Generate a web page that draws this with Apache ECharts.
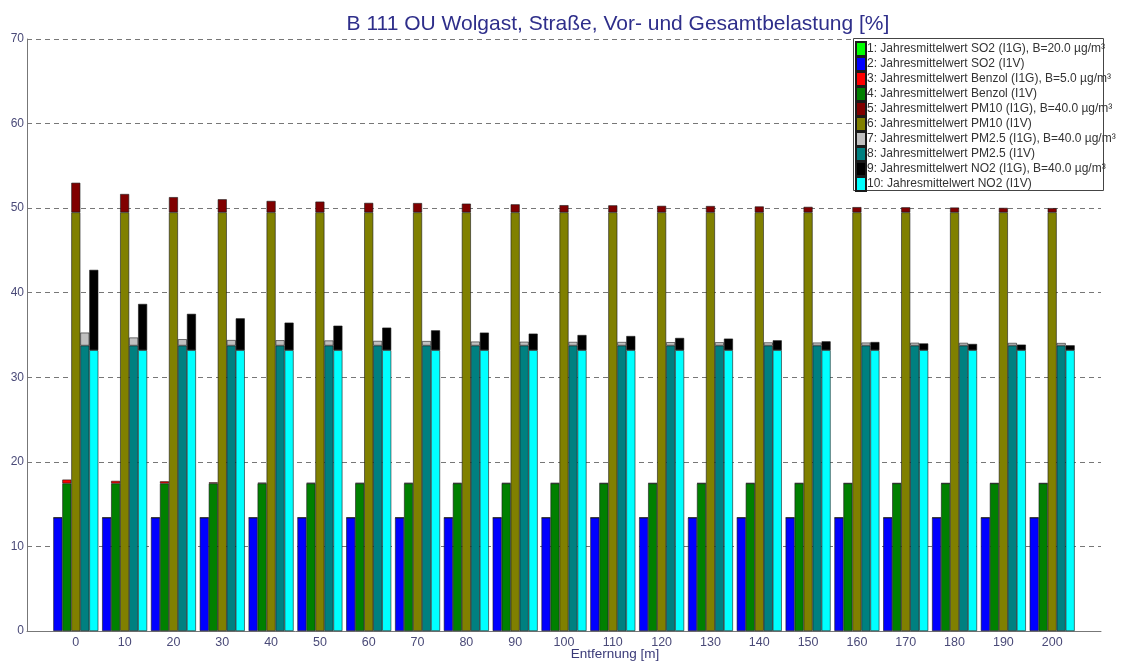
<!DOCTYPE html>
<html>
<head>
<meta charset="utf-8">
<script src="https://cdn.jsdelivr.net/npm/echarts@6/dist/echarts.min.js"></script>
<style>html,body{margin:0;padding:0;background:#fff;}#c{width:1121px;height:662px;}</style>
</head>
<body>
<div id="c"></div>
<script>
var distances = [0,10,20,30,40,50,60,70,80,90,100,110,120,130,140,150,160,170,180,190,200];
var axisEnds  = [-10, 210];
var so2_I1V    = [13.4,13.4,13.4,13.4,13.4,13.4,13.4,13.4,13.4,13.4,13.4,13.4,13.4,13.4,13.4,13.4,13.4,13.4,13.4,13.4,13.4];
var so2_I1G    = [0.02,0.01,0.01,0.01,0.01,0.01,0.01,0.01,0.01,0.01,0.01,0.01,0.01,0.01,0.01,0.01,0.01,0.01,0.01,0.01,0.01];
var benzol_I1V = [17.45,17.45,17.45,17.45,17.45,17.45,17.45,17.45,17.45,17.45,17.45,17.45,17.45,17.45,17.45,17.45,17.45,17.45,17.45,17.45,17.45];
var benzol_I1G = [0.45,0.3,0.25,0.12,0.08,0.06,0.05,0.05,0.04,0.04,0.04,0.03,0.03,0.03,0.03,0.03,0.02,0.02,0.02,0.02,0.02];
var pm10_I1V   = [49.5,49.5,49.5,49.5,49.5,49.5,49.5,49.5,49.5,49.5,49.5,49.5,49.5,49.5,49.5,49.5,49.5,49.5,49.5,49.5,49.5];
var pm10_I1G   = [3.5,2.17,1.8,1.55,1.35,1.27,1.12,1.1,1.03,0.95,0.85,0.83,0.77,0.75,0.7,0.65,0.62,0.6,0.57,0.53,0.5];
var pm25_I1V   = [33.75,33.75,33.75,33.75,33.75,33.75,33.75,33.75,33.75,33.75,33.75,33.75,33.75,33.75,33.75,33.75,33.75,33.75,33.75,33.75,33.75];
var pm25_I1G   = [1.53,0.95,0.75,0.65,0.63,0.6,0.55,0.53,0.47,0.45,0.43,0.42,0.4,0.39,0.37,0.35,0.35,0.33,0.32,0.31,0.3];
var no2_I1V    = [33.2,33.2,33.2,33.2,33.2,33.2,33.2,33.2,33.2,33.2,33.2,33.2,33.2,33.2,33.2,33.2,33.2,33.2,33.2,33.2,33.2];
var no2_I1G    = [9.5,5.47,4.3,3.77,3.26,2.9,2.67,2.35,2.08,1.96,1.8,1.68,1.45,1.37,1.17,1.05,0.97,0.8,0.74,0.66,0.58];
var yTicks = [0,10,20,30,40,50,60,70];

var names = [
  '1: Jahresmittelwert SO2 (I1G), B=20.0 µg/m³',
  '2: Jahresmittelwert SO2 (I1V)',
  '3: Jahresmittelwert Benzol (I1G), B=5.0 µg/m³',
  '4: Jahresmittelwert Benzol (I1V)',
  '5: Jahresmittelwert PM10 (I1G), B=40.0 µg/m³',
  '6: Jahresmittelwert PM10 (I1V)',
  '7: Jahresmittelwert PM2.5 (I1G), B=40.0 µg/m³',
  '8: Jahresmittelwert PM2.5 (I1V)',
  '9: Jahresmittelwert NO2 (I1G), B=40.0 µg/m³',
  '10: Jahresmittelwert NO2 (I1V)'
];
var colors = ['#00ff00','#0000ff','#ff0000','#008000','#800000','#808000','#c0c0c0','#008080','#000000','#00ffff'];

// category axis spans -10 .. 210 (MATLAB-like limits); end slots carry no bars
var categories = [String(axisEnds[0])].concat(distances.map(String)).concat([String(axisEnds[1])]);
function padded(arr){ return [null].concat(arr).concat([null]); }
function mk(idx, arr, stack){
  return {
    name: names[idx], type: 'bar', stack: stack,
    data: padded(arr), barWidth: 9, barGap: '0%',
    itemStyle: { color: colors[idx], borderColor: '#1a1a1a', borderWidth: 0.6 },
    emphasis: { disabled: true }
  };
}
var series = [
  mk(1, so2_I1V, 'so2'), mk(0, so2_I1G, 'so2'),
  mk(3, benzol_I1V, 'benzol'), mk(2, benzol_I1G, 'benzol'),
  mk(5, pm10_I1V, 'pm10'), mk(4, pm10_I1G, 'pm10'),
  mk(7, pm25_I1V, 'pm25'), mk(6, pm25_I1G, 'pm25'),
  mk(9, no2_I1V, 'no2'), mk(8, no2_I1G, 'no2')
];

var chart = echarts.init(document.getElementById('c'));
chart.setOption({
  animation: false,
  backgroundColor: '#ffffff',
  title: [{
    text: 'B 111 OU Wolgast, Straße, Vor- und Gesamtbelastung [%]',
    left: 613, top: 9, textAlign: 'center',
    textStyle: { fontFamily: 'Liberation Sans', fontSize: 21, fontWeight: 'normal', color: '#2e2e8a' }
  }, {
    text: 'Entfernung [m]',
    left: 615, top: 647, textAlign: 'center', padding: 0,
    textStyle: { fontFamily: 'Liberation Sans', fontSize: 13.5, fontWeight: 'normal', color: '#3a3a78' }
  }],
  grid: { left: 27, right: 20, top: 39, bottom: 31 },
  graphic: [{
    type: 'rect', left: 853, top: 38, z: 3, silent: true,
    shape: { width: 250, height: 152 },
    style: { fill: '#ffffff', stroke: '#444', lineWidth: 1 }
  }],
  legend: {
    data: names,
    orient: 'vertical', left: 853, top: 39, z: 5,
    icon: 'rect', itemWidth: 10, itemHeight: 14, itemGap: -1,
    padding: [2, 2, 2, 2],
    textStyle: { fontFamily: 'Liberation Sans', fontSize: 12, lineHeight: 14, color: '#333',
                 padding: [0,0,0,-4] },
    selectedMode: false
  },
  xAxis: {
    type: 'category', data: categories, boundaryGap: false,
    axisLine: { show: true, lineStyle: { color: '#777', width: 1 } },
    axisTick: { show: false },
    splitLine: { show: false },
    axisLabel: {
      interval: 0,
      fontFamily: 'Liberation Sans', fontSize: 12.5, color: '#4a4a78', margin: 5,
      formatter: function(v, i){ return (i === 0 || i === categories.length - 1) ? '' : v; }
    }
  },
  yAxis: {
    type: 'value', min: yTicks[0], max: yTicks[yTicks.length-1], interval: 10,
    axisLine: { show: true, onZero: false, lineStyle: { color: '#777', width: 1 } },
    axisTick: { show: false },
    splitLine: { show: true, lineStyle: { color: '#777', type: [5, 4], width: 1 } },
    axisLabel: { fontFamily: 'Liberation Sans', fontSize: 12, color: '#4a4a78', margin: 3 }
  },
  series: series
});
</script>
</body>
</html>
